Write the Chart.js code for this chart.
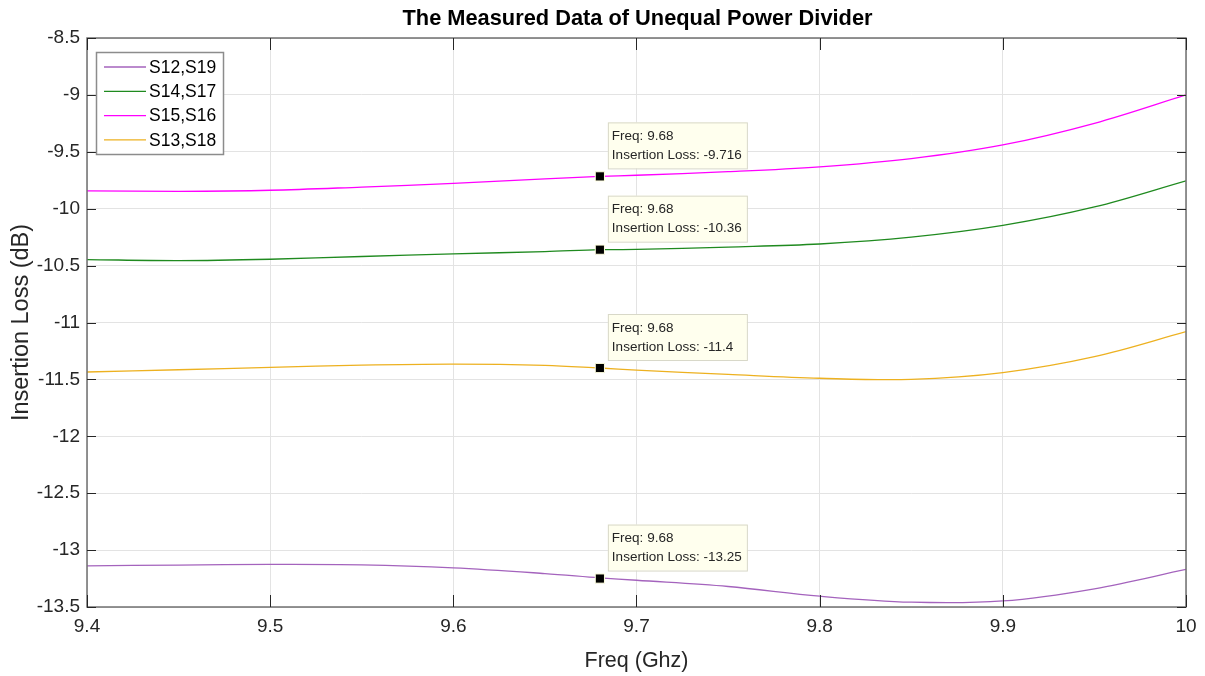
<!DOCTYPE html>
<html>
<head>
<meta charset="utf-8">
<script src="https://cdn.jsdelivr.net/npm/chart.js@4/dist/chart.umd.min.js"></script>
<style>
  html, body { margin: 0; padding: 0; background: #fff; }
  #wrap { width: 1205px; height: 676px; }
</style>
</head>
<body>
<div id="wrap"><canvas id="chart" width="1205" height="676"></canvas></div>
<script>
// values
const freq = [9.4, 9.45, 9.5, 9.55, 9.6, 9.65, 9.68, 9.7, 9.75, 9.8, 9.85, 9.9, 9.95, 10];
const s12s19 = [-13.138, -13.132, -13.126, -13.13, -13.156, -13.206, -13.244, -13.265, -13.32, -13.405, -13.458, -13.447, -13.34, -13.17];
const s14s17 = [-10.447, -10.456, -10.444, -10.42, -10.397, -10.377, -10.36, -10.358, -10.337, -10.31, -10.25, -10.147, -9.985, -9.755];
const s15s16 = [-9.843, -9.847, -9.838, -9.81, -9.778, -9.738, -9.716, -9.706, -9.675, -9.632, -9.56, -9.44, -9.25, -9.0];
const s13s18 = [-11.435, -11.415, -11.394, -11.374, -11.365, -11.376, -11.4, -11.418, -11.456, -11.49, -11.5, -11.44, -11.3, -11.08];

const seriesNames = ["S12,S19", "S14,S17", "S15,S16", "S13,S18"];
const seriesColors = ["#a463bd", "#1f8a1f", "#ff00ff", "#edb120"];
const seriesValues = [s12s19, s14s17, s15s16, s13s18];

// data tips at 9.68
const tipFreq = 9.68;
const tipValues = [-13.25, -10.36, -9.716, -11.4];
const tipLabels = ["-13.25", "-10.36", "-9.716", "-11.4"];

const xTicks = [9.4, 9.5, 9.6, 9.7, 9.8, 9.9, 10];
const yTicks = [-8.5, -9, -9.5, -10, -10.5, -11, -11.5, -12, -12.5, -13, -13.5];

const FONT = "Helvetica, 'Liberation Sans', Arial, sans-serif";

const datasets = seriesValues.map((vals, i) => ({
  label: seriesNames[i],
  data: freq.map((f, j) => ({ x: f, y: vals[j] })),
  borderColor: seriesColors[i],
  backgroundColor: seriesColors[i],
  borderWidth: 1.3,
  pointRadius: 0,
  tension: 0.35,
  order: 2
}));

datasets.push({
  label: "tips",
  data: tipValues.map(v => ({ x: tipFreq, y: v })),
  showLine: false,
  pointStyle: "rect",
  pointRadius: 6.5,
  backgroundColor: "#000",
  borderColor: "#ffffe0",
  borderWidth: 1,
  order: 1
});

const boxPlugin = {
  id: "matlabBox",
  afterDraw(chart) {
    const { ctx, chartArea: a, scales } = chart;
    ctx.save();
    // axes box
    ctx.strokeStyle = "#707070";
    ctx.lineWidth = 1.5;
    ctx.strokeRect(a.left, a.top, a.right - a.left, a.bottom - a.top);
    // inward ticks
    ctx.strokeStyle = "#262626";
    ctx.lineWidth = 1;
    ctx.beginPath();
    xTicks.forEach(t => {
      const px = Math.round(scales.x.getPixelForValue(t)) + 0.5;
      ctx.moveTo(px, a.bottom); ctx.lineTo(px, a.bottom - 12);
      ctx.moveTo(px, a.top); ctx.lineTo(px, a.top + 12);
    });
    yTicks.forEach(t => {
      const py = Math.round(scales.y.getPixelForValue(t)) + 0.5;
      ctx.moveTo(a.left, py); ctx.lineTo(a.left + 9, py);
      ctx.moveTo(a.right, py); ctx.lineTo(a.right - 9, py);
    });
    ctx.stroke();

    // title (narrow, like the source figure)
    ctx.fillStyle = "#000";
    ctx.font = "bold 22px " + FONT;
    ctx.textAlign = "center";
    ctx.textBaseline = "middle";
    const title = "The Measured Data of Unequal Power Divider";
    const tw = ctx.measureText(title).width;
    ctx.save();
    ctx.translate((a.left + a.right) / 2 + 1, 19);
    ctx.scale(470 / tw, 1);
    ctx.fillText(title, 0, 0);
    ctx.restore();

    // legend
    const lx = 96, ly = 52, lw = 127, lh = 102;
    ctx.fillStyle = "#fff";
    ctx.fillRect(lx, ly, lw, lh);
    ctx.strokeStyle = "#8c8c8c";
    ctx.lineWidth = 1.5;
    ctx.strokeRect(lx + 0.5, ly + 0.5, lw, lh);
    ctx.font = "17.5px " + FONT;
    ctx.textAlign = "left";
    seriesNames.forEach((name, i) => {
      const yy = ly + 15 + i * 24.3;
      ctx.strokeStyle = seriesColors[i];
      ctx.lineWidth = 1.3;
      ctx.beginPath();
      ctx.moveTo(lx + 8, yy); ctx.lineTo(lx + 50, yy);
      ctx.stroke();
      ctx.fillStyle = "#000";
      ctx.fillText(name, lx + 53, yy + 1);
    });

    // data tip boxes
    ctx.font = "13.5px " + FONT;
    tipValues.forEach((v, i) => {
      const px = scales.x.getPixelForValue(tipFreq);
      const py = scales.y.getPixelForValue(v);
      const bx = px + 8, by = py - 54, bw = 139, bh = 46;
      ctx.fillStyle = "#ffffee";
      ctx.fillRect(bx, by, bw, bh);
      ctx.strokeStyle = "#d8d8c8";
      ctx.lineWidth = 1;
      ctx.strokeRect(bx + 0.5, by + 0.5, bw, bh);
      ctx.fillStyle = "#262626";
      ctx.textBaseline = "middle";
      ctx.fillText("Freq: " + tipFreq, bx + 4, by + 14);
      ctx.fillText("Insertion Loss: " + tipLabels[i], bx + 4, by + 33);
    });
    ctx.restore();
  }
};

new Chart(document.getElementById("chart"), {
  type: "line",
  data: { datasets },
  options: {
    responsive: false,
    animation: false,
    layout: { padding: { top: 38, right: 19, left: 0, bottom: 0 } },
    plugins: {
      legend: { display: false },
      title: { display: false },
      tooltip: { enabled: false }
    },
    scales: {
      x: {
        type: "linear",
        min: 9.4,
        max: 10,
        afterBuildTicks: s => { s.ticks = xTicks.map(v => ({ value: v })); },
        afterFit: s => { s.height = 69; },
        grid: { color: "#e3e3e3", drawTicks: false, lineWidth: 1 },
        border: { display: false },
        ticks: {
          color: "#262626",
          font: { family: FONT, size: 19 },
          padding: 8,
          maxRotation: 0,
          callback: v => String(v)
        },
        title: {
          display: true,
          text: "Freq (Ghz)",
          color: "#262626",
          font: { family: FONT, size: 21.5 },
          padding: { top: 0, bottom: 2 }
        }
      },
      y: {
        type: "linear",
        min: -13.5,
        max: -8.5,
        afterBuildTicks: s => { s.ticks = yTicks.map(v => ({ value: v })); },
        afterFit: s => { s.width = 87; },
        grid: { color: "#e3e3e3", drawTicks: false, lineWidth: 1 },
        border: { display: false },
        ticks: {
          color: "#262626",
          font: { family: FONT, size: 19 },
          padding: 7,
          callback: v => String(v)
        },
        title: {
          display: true,
          text: "Insertion Loss (dB)",
          color: "#262626",
          font: { family: FONT, size: 23.5 },
          padding: { top: 7, bottom: 0 }
        }
      }
    }
  },
  plugins: [boxPlugin]
});
</script>
</body>
</html>
